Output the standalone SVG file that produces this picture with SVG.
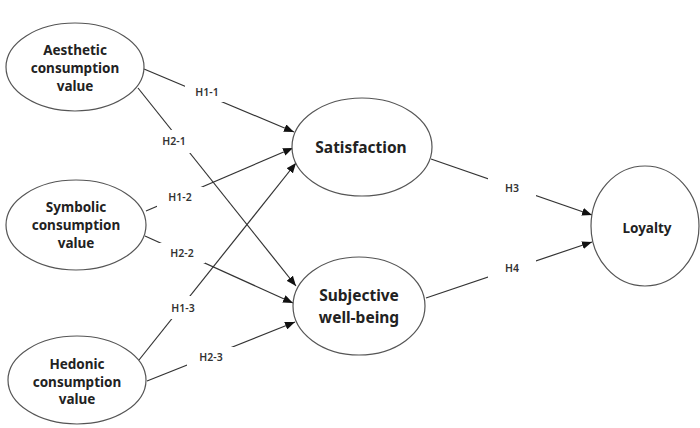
<svg xmlns="http://www.w3.org/2000/svg" width="700" height="428" viewBox="0 0 700 428">
<defs>
<style>
.node ellipse{fill:#fff;stroke:#555;stroke-width:1.2}
.nt{font-family:"Noto Sans","Open Sans","DejaVu Sans",sans-serif;font-weight:bold;fill:#222;text-anchor:middle}
.small{font-size:13.5px}
.big{font-size:15.5px}
.edge{stroke:#333;stroke-width:1.2;fill:none;marker-end:url(#arr)}
.lbl{font-family:"Noto Sans","Open Sans","DejaVu Sans",sans-serif;font-size:10.5px;font-weight:600;fill:#333;text-anchor:middle}
.bg{fill:#fff}
</style>
<marker id="arr" viewBox="0 0 10 8" refX="10" refY="4" markerWidth="10" markerHeight="8" markerUnits="userSpaceOnUse" orient="auto">
<path d="M0,0 L10,4 L0,8 Z" fill="#111"/>
</marker>
</defs>
<rect width="700" height="428" fill="#fff"/>
<g id="connectors">
<line class="edge" x1="144" y1="69" x2="294" y2="132"/>
<line class="edge" x1="138" y1="88" x2="296" y2="286"/>
<line class="edge" x1="146" y1="211" x2="293" y2="148"/>
<line class="edge" x1="145" y1="236" x2="293" y2="303"/>
<line class="edge" x1="139" y1="360" x2="296" y2="163"/>
<line class="edge" x1="147" y1="381" x2="295" y2="322"/>
<line class="edge" x1="431" y1="159" x2="592" y2="215"/>
<line class="edge" x1="426" y1="298" x2="592" y2="242"/>
<rect class="bg" x="185" y="82" width="42" height="20"/>
<rect class="bg" x="155" y="130" width="38" height="23"/>
<rect class="bg" x="157" y="187" width="46" height="20"/>
<rect class="bg" x="159" y="243" width="46" height="20"/>
<rect class="bg" x="164" y="296" width="38" height="23"/>
<rect class="bg" x="187" y="347" width="48" height="20"/>
<rect class="bg" x="488" y="178" width="48" height="20"/>
<rect class="bg" x="488" y="258" width="48" height="20"/>
<text class="lbl" x="207" y="96">H1-1</text>
<text class="lbl" x="174" y="145">H2-1</text>
<text class="lbl" x="180" y="201">H1-2</text>
<text class="lbl" x="182" y="257">H2-2</text>
<text class="lbl" x="183" y="312">H1-3</text>
<text class="lbl" x="211" y="361">H2-3</text>
<text class="lbl" x="512" y="192">H3</text>
<text class="lbl" x="512" y="272">H4</text>
</g>
<g id="aesthetic" class="node">
<ellipse cx="75" cy="67" rx="69" ry="44"/>
<text class="nt small" x="75" y="55">Aesthetic</text>
<text class="nt small" x="75" y="73">consumption</text>
<text class="nt small" x="75" y="91">value</text>
</g>
<g id="symbolic" class="node">
<ellipse cx="76" cy="225" rx="70" ry="45"/>
<text class="nt small" x="76" y="212">Symbolic</text>
<text class="nt small" x="76" y="230">consumption</text>
<text class="nt small" x="76" y="248">value</text>
</g>
<g id="hedonic" class="node">
<ellipse cx="77" cy="380" rx="69" ry="44"/>
<text class="nt small" x="77" y="369">Hedonic</text>
<text class="nt small" x="77" y="387">consumption</text>
<text class="nt small" x="77" y="404">value</text>
</g>
<g id="satisfaction" class="node">
<ellipse cx="362" cy="147" rx="70" ry="49"/>
<text class="nt big" x="361" y="153">Satisfaction</text>
</g>
<g id="wellbeing" class="node">
<ellipse cx="359" cy="306" rx="66" ry="49"/>
<text class="nt big" x="359" y="301">Subjective</text>
<text class="nt big" x="359" y="323">well-being</text>
</g>
<g id="loyalty" class="node">
<ellipse cx="645" cy="226" rx="54" ry="60"/>
<text class="nt small" x="647" y="233">Loyalty</text>
</g>
</svg>
